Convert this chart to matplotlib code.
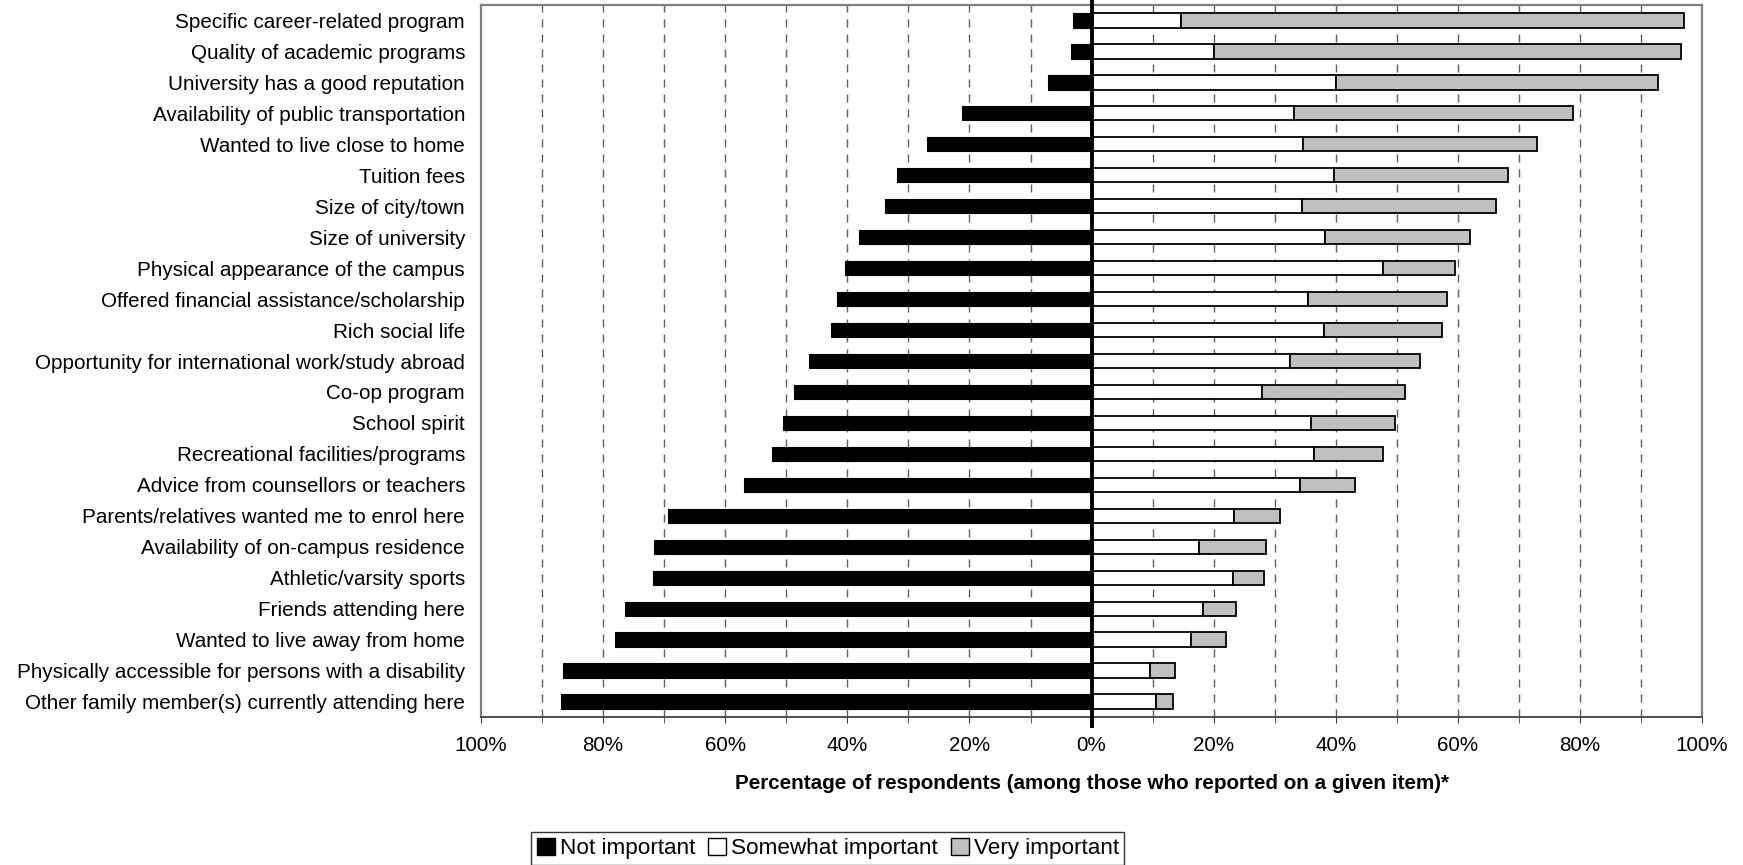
import numpy as np
import matplotlib.pyplot as plt
from matplotlib.patches import Patch
from matplotlib.ticker import MultipleLocator, FuncFormatter

plt.rcParams['font.family'] = ['Liberation Sans', 'DejaVu Sans']

items = [
    "Specific career-related program",
    "Quality of academic programs",
    "University has a good reputation",
    "Availability of public transportation",
    "Wanted to live close to home",
    "Tuition fees",
    "Size of city/town",
    "Size of university",
    "Physical appearance of the campus",
    "Offered financial assistance/scholarship",
    "Rich social life",
    "Opportunity for international work/study abroad",
    "Co-op program",
    "School spirit",
    "Recreational facilities/programs",
    "Advice from counsellors or teachers",
    "Parents/relatives wanted me to enrol here",
    "Availability of on-campus residence",
    "Athletic/varsity sports",
    "Friends attending here",
    "Wanted to live away from home",
    "Physically accessible for persons with a disability",
    "Other family member(s) currently attending here",
]

# percentages
not_important = [3.0, 3.4, 7.2, 21.2, 27.0, 31.9, 33.9, 38.1, 40.4, 41.7, 42.7, 46.3,
                 48.8, 50.5, 52.4, 56.9, 69.3, 71.6, 71.9, 76.5, 78.1, 86.5, 86.9]
somewhat = [14.6, 20.1, 40.0, 33.2, 34.7, 39.7, 34.4, 38.3, 47.7, 35.4, 38.0, 32.5,
            28.0, 36.0, 36.4, 34.1, 23.4, 17.6, 23.1, 18.3, 16.3, 9.5, 10.5]
very = [82.4, 76.5, 52.8, 45.6, 38.3, 28.5, 31.8, 23.7, 11.9, 22.9, 19.4, 21.3,
        23.4, 13.7, 11.3, 9.1, 7.5, 11.0, 5.2, 5.4, 5.8, 4.2, 2.9]

y = np.arange(len(items))
h = 0.46

fig, ax = plt.subplots(figsize=(17.43, 8.65), dpi=100)
fig.subplots_adjust(left=0.276, right=0.9765, top=0.9942, bottom=0.1711)

ax.barh(y, -np.array(not_important), height=h, color="black", edgecolor="black",
        linewidth=0.8, zorder=3, label="Not important")
ax.barh(y, somewhat, height=h, color="white", edgecolor="black",
        linewidth=1.3, zorder=3, label="Somewhat important")
ax.barh(y, very, left=somewhat, height=h, color="#c0c0c0", edgecolor="black",
        linewidth=1.3, zorder=3, label="Very important")

# dashed grid every 10%
for gx in range(-90, 100, 10):
    if gx != 0:
        ax.axvline(gx, color="#606060", linewidth=1.0, linestyle=(0, (5.8, 5.0)), zorder=1)
ax.axvline(0, color="black", linewidth=2.8, ymin=-0.012, ymax=1.008, clip_on=False, zorder=4)

ax.set_xlim(-100, 100)
ax.set_ylim(len(items) - 0.5, -0.5)
ax.set_yticks(y)
ax.set_yticklabels(items, fontsize=14.9)
ax.tick_params(axis="y", length=0, pad=11.5)

ax.xaxis.set_major_locator(MultipleLocator(20))
ax.xaxis.set_minor_locator(MultipleLocator(10))
ax.xaxis.set_major_formatter(FuncFormatter(lambda v, p: f"{abs(v):.0f}%"))
ax.tick_params(axis="x", which="both", direction="out", color="#404040",
               labelsize=14.9, pad=9)
ax.tick_params(axis="x", which="major", length=4.5)
ax.tick_params(axis="x", which="minor", length=4.5)

for s in ["left", "top", "right"]:
    ax.spines[s].set_color("#808080")
    ax.spines[s].set_linewidth(1.6)
ax.spines["bottom"].set_color("#404040")
ax.spines["bottom"].set_linewidth(1.3)

ax.set_xlabel("Percentage of respondents (among those who reported on a given item)*",
              fontsize=14.9, fontweight="bold", labelpad=14)

handles = [Patch(facecolor="black", edgecolor="black", label="Not important"),
           Patch(facecolor="white", edgecolor="black", label="Somewhat important"),
           Patch(facecolor="#c0c0c0", edgecolor="black", label="Very important")]
leg = fig.legend(handles=handles, loc="lower center", bbox_to_anchor=(0.475, 0.0),
                 ncol=3, fontsize=16.2, frameon=True, fancybox=False,
                 handlelength=0.8, handleheight=0.8, handletextpad=0.2,
                 columnspacing=0.6, borderpad=0.25, borderaxespad=0.0)
leg.get_frame().set_edgecolor("black")
leg.get_frame().set_linewidth(1.0)

fig.savefig("out.png", dpi=100)
